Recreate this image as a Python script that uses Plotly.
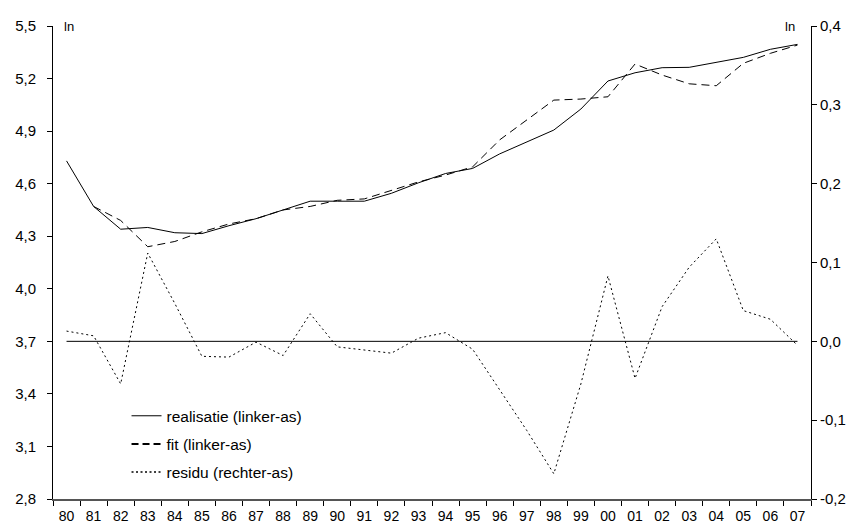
import plotly.graph_objects as go

years = ["80","81","82","83","84","85","86","87","88","89","90","91","92","93",
         "94","95","96","97","98","99","00","01","02","03","04","05","06","07"]

realisatie = [4.73, 4.47, 4.34, 4.35, 4.32, 4.315, 4.36, 4.40, 4.45, 4.50,
              4.50, 4.50, 4.545, 4.605, 4.658, 4.687, 4.77, 4.84, 4.906, 5.026,
              5.186, 5.233, 5.262, 5.264, 5.294, 5.321, 5.367, 5.395]

fit = [None, 4.47, 4.39, 4.24, 4.27, 4.325, 4.37, 4.40, 4.45, 4.47,
       4.505, 4.513, 4.563, 4.61, 4.649, 4.696, 4.85, 4.963, 5.077, 5.083,
       5.096, 5.283, 5.22, 5.17, 5.159, 5.287, 5.344, 5.391]

residu = [0.013, 0.007, -0.054, 0.112, 0.048, -0.019, -0.02, -0.001, -0.018, 0.035,
          -0.007, -0.011, -0.015, 0.004, 0.011, -0.01, -0.062, -0.113, -0.168, -0.054,
          0.083, -0.047, 0.044, 0.094, 0.130, 0.039, 0.028, -0.005]

nul = [0.0] * len(years)

left_ticks = [2.8, 3.1, 3.4, 3.7, 4.0, 4.3, 4.6, 4.9, 5.2, 5.5]
left_text = ["2,8", "3,1", "3,4", "3,7", "4,0", "4,3", "4,6", "4,9", "5,2", "5,5"]
right_ticks = [-0.2, -0.1, 0.0, 0.1, 0.2, 0.3, 0.4]
right_text = ["-0,2", "-0,1", "0,0", "0,1", "0,2", "0,3", "0,4"]

names = ["realisatie (linker-as)", "fit (linker-as)", "residu (rechter-as)"]

FONT = "Liberation Sans, Arial, sans-serif"

fig = go.Figure()

# zero line (right axis)
fig.add_trace(go.Scatter(x=years, y=nul, yaxis="y2", mode="lines",
                         line=dict(color="black", width=1), showlegend=False, hoverinfo="skip"))
fig.add_trace(go.Scatter(x=years, y=residu, yaxis="y2", mode="lines",
                         line=dict(color="black", width=1, dash="2px,3px"), showlegend=False))
fig.add_trace(go.Scatter(x=years, y=fit, mode="lines",
                         line=dict(color="black", width=1, dash="8px,5px"), showlegend=False))
fig.add_trace(go.Scatter(x=years, y=realisatie, mode="lines",
                         line=dict(color="black", width=1), showlegend=False))

# legend-only samples
fig.add_trace(go.Scatter(x=[years[0]], y=[None], mode="lines", name=names[0], legendgroup="a",
                         line=dict(color="black", width=1)))
fig.add_trace(go.Scatter(x=[years[0]], y=[None], mode="lines", name=names[1], legendgroup="b",
                         line=dict(color="black", width=2, dash="7px,4px")))
fig.add_trace(go.Scatter(x=[years[0]], y=[None], mode="lines", name=names[2], legendgroup="c",
                         line=dict(color="black", width=1.5, dash="2px,2.5px")))

fig.update_layout(
    width=856, height=525,
    margin=dict(l=53, r=45, t=26, b=26, pad=0),
    paper_bgcolor="white", plot_bgcolor="white",
    font=dict(family=FONT, size=13, color="black"),
    showlegend=True,
    legend=dict(x=0.097, y=0.211, xanchor="left", yanchor="top",
                bgcolor="rgba(0,0,0,0)", font=dict(size=15.5, family=FONT),
                traceorder="grouped", tracegroupgap=5),
    xaxis=dict(type="category", range=[-0.5, 27.5], showgrid=False, automargin=False,
               showline=True, linecolor="#555555", linewidth=1.5,
               ticks="outside", ticklen=5, tickcolor="black", tickson="boundaries",
               tickfont=dict(size=14), ticklabelstandoff=3),
    yaxis=dict(range=[2.8, 5.5], tickvals=left_ticks, ticktext=left_text, automargin=False,
               showgrid=False, zeroline=False, showline=True, linecolor="black", linewidth=1,
               ticks="outside", ticklen=5, tickcolor="black", tickfont=dict(size=15),
               ticklabelstandoff=8),
    yaxis2=dict(range=[-0.2, 0.4], tickvals=right_ticks, ticktext=right_text, automargin=False,
                overlaying="y", side="right", showgrid=False, zeroline=False,
                showline=True, linecolor="black", linewidth=1,
                ticks="outside", ticklen=5, tickcolor="black", tickfont=dict(size=15)),
    annotations=[
        dict(text="ln", xref="paper", yref="paper", x=0.012, y=1.0, xanchor="left",
             yanchor="middle", showarrow=False, font=dict(size=13)),
        dict(text="ln", xref="paper", yref="paper", x=0.9727, y=1.0, xanchor="center",
             yanchor="middle", showarrow=False, font=dict(size=13)),
    ],
)

fig.write_html("out.html", config={"displayModeBar": False},
               post_script="document.body.style.margin='0';document.body.style.padding='0';document.body.style.overflow='hidden';")
